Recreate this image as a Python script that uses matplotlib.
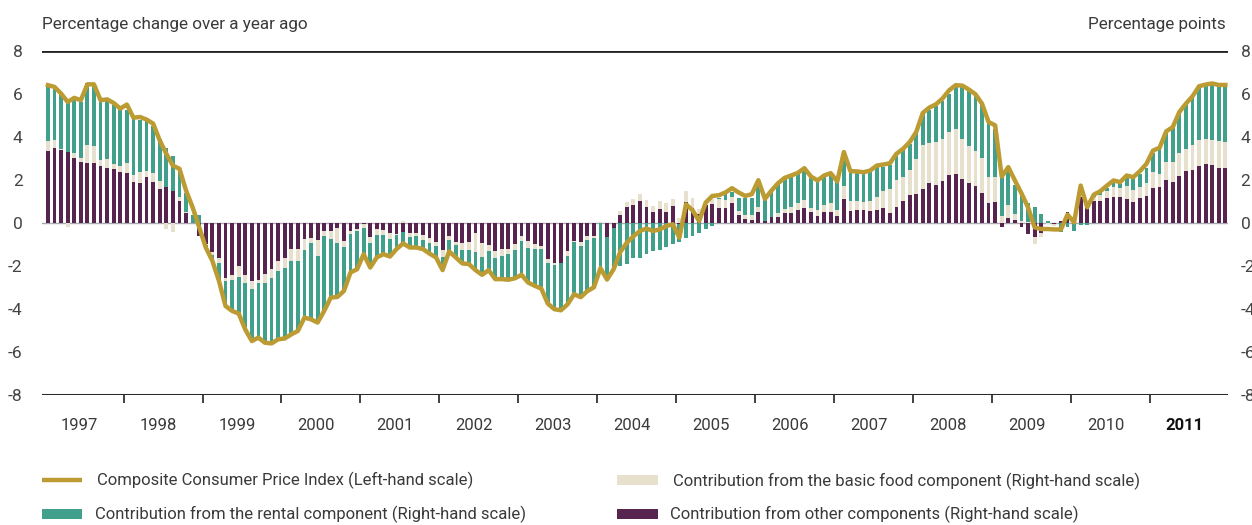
import numpy as np
import matplotlib
matplotlib.use("Agg")
import matplotlib.pyplot as plt
from matplotlib.patches import Rectangle

plt.rcParams['font.family'] = ['Roboto', 'DejaVu Sans']

# monthly data, Jan 1997 - Dec 2011
years = ['1997', '1998', '1999', '2000', '2001', '2002', '2003', '2004',
         '2005', '2006', '2007', '2008', '2009', '2010', '2011']

other = [3.34, 3.50, 3.41, 3.28, 3.02, 2.83, 2.78, 2.78, 2.63, 2.57, 2.49, 2.35,
         2.32, 1.90, 1.85, 2.16, 1.90, 1.56, 1.66, 1.48, 1.04, 0.45, 0.00, -0.60,
         -0.98, -1.37, -1.63, -2.57, -2.41, -2.02, -2.41, -2.72, -2.64, -2.38, -2.15, -1.76,
         -1.63, -1.21, -1.21, -0.75, -0.70, -0.79, -0.39, -0.39, -0.23, -0.82, -0.36, -0.28,
         -0.05, -0.64, -0.28, -0.33, -0.47, -0.51, -0.40, -0.47, -0.48, -0.56, -0.70, -0.87,
         -1.24, -0.59, -0.90, -0.93, -0.90, -0.47, -0.95, -1.03, -1.29, -1.21, -1.21, -0.98,
         -0.59, -0.82, -0.98, -1.06, -1.68, -1.87, -1.88, -1.29, -0.82, -0.87, -0.61, -0.61,
         0.00, -0.65, -0.25, 0.36, 0.75, 0.84, 1.03, 0.75, 0.51, 0.67, 0.51, 0.79,
         -0.05, 0.98, 0.72, 0.40, 0.82, 0.87, 0.72, 0.72, 0.95, 0.36, 0.20, 0.14,
         0.50, 0.08, 0.26, 0.30, 0.45, 0.45, 0.61, 0.68, 0.50, 0.34, 0.50, 0.50,
         0.31, 1.12, 0.54, 0.61, 0.62, 0.58, 0.62, 0.68, 0.45, 0.76, 1.01, 1.28,
         1.36, 1.59, 1.87, 1.79, 1.94, 2.21, 2.26, 2.05, 1.87, 1.70, 1.38, 0.92,
         0.96, -0.20, 0.22, 0.14, -0.20, -0.51, -0.67, -0.47, 0.00, -0.05, 0.10, 0.50,
         0.00, 1.20, 0.70, 1.01, 1.01, 1.15, 1.20, 1.20, 1.12, 0.96, 1.15, 1.24,
         1.62, 1.66, 1.98, 1.90, 2.18, 2.41, 2.47, 2.64, 2.75, 2.68, 2.57, 2.57]

food = [0.47, 0.34, 0.05, -0.20, 0.25, 0.20, 0.87, 0.82, 0.32, 0.40, 0.25, 0.28,
        0.45, 0.34, 0.51, 0.24, 0.43, 0.38, -0.28, -0.40, 0.16, 0.05, 0.00, 0.00,
        -0.05, -0.11, -0.25, -0.12, -0.25, -0.48, -0.36, -0.36, -0.16, -0.39, -0.42, -0.47,
        -0.48, -0.58, -0.55, -0.50, -0.25, -0.73, -0.20, -0.36, -0.71, -0.28, -0.16, -0.08,
        -0.19, -0.31, -0.27, -0.22, -0.28, -0.05, 0.10, -0.17, -0.11, -0.22, -0.25, -0.22,
        -0.36, -0.19, -0.11, -0.31, -0.34, -0.90, -0.62, -0.26, -0.36, -0.31, -0.23, -0.28,
        -0.23, -0.36, -0.23, -0.16, -0.16, -0.09, 0.00, -0.23, -0.08, -0.20, -0.16, -0.11,
        0.05, 0.00, 0.00, 0.20, 0.23, 0.26, 0.31, 0.31, 0.28, 0.33, 0.44, 0.34,
        0.25, 0.51, 0.44, 0.26, 0.20, 0.23, 0.39, 0.34, 0.26, 0.20, 0.16, 0.22,
        0.26, 0.00, 0.03, 0.18, 0.20, 0.28, 0.31, 0.41, 0.20, 0.27, 0.34, 0.42,
        0.30, 0.58, 0.50, 0.43, 0.38, 0.46, 0.61, 0.83, 1.14, 1.22, 1.15, 1.19,
        1.64, 2.02, 1.85, 1.97, 1.98, 2.02, 2.13, 1.87, 1.69, 1.67, 1.65, 1.24,
        1.20, 0.34, 0.62, 0.28, 0.10, 0.05, -0.31, -0.20, -0.05, -0.10, 0.00, 0.00,
        0.00, 0.00, 0.00, 0.22, 0.31, 0.33, 0.47, 0.44, 0.59, 0.58, 0.51, 0.61,
        0.75, 0.62, 0.86, 0.93, 1.07, 1.04, 1.18, 1.23, 1.17, 1.20, 1.23, 1.20]

rental = [2.55, 2.41, 2.54, 2.50, 2.45, 2.60, 2.87, 2.85, 2.76, 2.71, 2.73, 2.61,
          2.50, 2.61, 2.44, 2.33, 2.18, 1.98, 1.84, 1.62, 1.24, 0.90, 0.37, 0.38,
          -0.11, -0.28, -0.81, -1.17, -1.43, -1.71, -2.18, -2.41, -2.53, -2.80, -3.03, -3.18,
          -3.26, -3.39, -3.26, -3.15, -3.53, -3.11, -3.50, -2.72, -2.50, -2.06, -1.78, -1.79,
          -1.21, -1.12, -1.05, -0.90, -0.81, -0.65, -0.65, -0.50, -0.55, -0.43, -0.47, -0.51,
          -0.59, -0.54, -0.59, -0.64, -0.67, -0.77, -0.84, -0.90, -0.96, -1.09, -1.20, -1.31,
          -1.59, -1.59, -1.71, -1.83, -1.91, -2.05, -2.18, -2.26, -2.41, -2.38, -2.40, -2.27,
          -2.15, -1.98, -1.90, -2.00, -1.93, -1.65, -1.62, -1.46, -1.31, -1.24, -1.10, -0.96,
          -0.85, -0.72, -0.61, -0.45, -0.30, -0.14, 0.05, 0.28, 0.25, 0.62, 0.82, 0.82,
          1.20, 1.04, 1.30, 1.34, 1.40, 1.43, 1.37, 1.35, 1.40, 1.33, 1.32, 1.34,
          1.29, 1.21, 1.32, 1.32, 1.32, 1.32, 1.37, 1.09, 1.12, 1.21, 1.25, 1.22,
          1.24, 1.48, 1.55, 1.67, 1.76, 1.79, 1.94, 2.41, 2.58, 2.57, 2.52, 2.49,
          2.23, 1.80, 1.60, 1.37, 1.40, 0.90, 0.73, 0.42, 0.11, 0.00, -0.43, -0.20,
          -0.36, -0.10, -0.10, 0.10, 0.16, 0.16, 0.20, 0.19, 0.45, 0.56, 0.62, 0.72,
          0.89, 1.17, 1.37, 1.63, 1.84, 2.02, 2.16, 2.46, 2.49, 2.58, 2.61, 2.57]

cpi = [6.41, 6.33, 6.02, 5.63, 5.82, 5.71, 6.45, 6.45, 5.71, 5.75, 5.58, 5.32,
       5.51, 4.90, 4.93, 4.81, 4.62, 3.84, 3.22, 2.67, 2.52, 1.51, 0.73, -0.20,
       -1.14, -1.76, -2.69, -3.86, -4.09, -4.21, -4.95, -5.49, -5.33, -5.57, -5.60, -5.41,
       -5.37, -5.18, -5.02, -4.40, -4.48, -4.63, -4.09, -3.47, -3.44, -3.16, -2.30, -2.15,
       -1.45, -2.07, -1.60, -1.45, -1.56, -1.21, -0.95, -1.14, -1.14, -1.21, -1.42, -1.60,
       -2.19, -1.32, -1.60, -1.88, -1.91, -2.19, -2.41, -2.19, -2.61, -2.61, -2.64, -2.57,
       -2.41, -2.77, -2.92, -3.05, -3.75, -4.01, -4.06, -3.78, -3.31, -3.45, -3.17, -2.99,
       -2.10, -2.63, -2.15, -1.35, -0.92, -0.62, -0.37, -0.26, -0.37, -0.30, -0.14, -0.06,
       -0.68, 0.87, 0.59, 0.09, 0.95, 1.26, 1.29, 1.42, 1.62, 1.42, 1.26, 1.34,
       1.99, 1.12, 1.51, 1.85, 2.10, 2.21, 2.33, 2.55, 2.16, 1.98, 2.21, 2.32,
       1.93, 3.30, 2.41, 2.40, 2.36, 2.44, 2.67, 2.72, 2.78, 3.22, 3.45, 3.76,
       4.23, 5.12, 5.37, 5.52, 5.79, 6.17, 6.41, 6.39, 6.21, 5.99, 5.55, 4.70,
       4.54, 2.16, 2.60, 1.98, 1.38, 0.73, -0.20, -0.28, -0.28, -0.30, -0.30, 0.39,
       0.03, 1.74, 0.73, 1.32, 1.48, 1.74, 1.98, 1.90, 2.21, 2.13, 2.41, 2.75,
       3.37, 3.50, 4.26, 4.46, 5.16, 5.55, 5.89, 6.36, 6.44, 6.49, 6.42, 6.42]

y_ticks = [8, 6, 4, 2, 0, -2, -4, -6, -8]

gold = '#bb9b32'
teal = '#40a08b'
cream = '#e6e0cc'
purple = '#57234f'
txt = '#3a3a3a'

W, H = 1252, 525
fig = plt.figure(figsize=(W / 100, H / 100), dpi=100)
ax = fig.add_axes([42 / W, 1 - 395 / H, (1228 - 42) / W, (395 - 51) / H])

x = np.arange(len(cpi))
pos = np.zeros(len(x))
neg = np.zeros(len(x))
for vals, col in [(other, purple), (food, cream), (rental, teal)]:
    v = np.array(vals)
    base = np.where(v >= 0, pos, neg)
    ax.bar(x, v, width=0.58, bottom=base, color=col, linewidth=0, zorder=2)
    pos += np.clip(v, 0, None)
    neg += np.clip(v, None, 0)

ax.plot(x, cpi, color=gold, lw=3.2, zorder=4, solid_joinstyle='round')

ax.axhline(0, color='#a9a9b2', lw=1.0, zorder=1)
ax.axhline(8, color='#222222', lw=2.0, zorder=5)
ax.axhline(-8, color='#2a2a2a', lw=2.2, zorder=5)

ax.set_xlim(-0.9, 179.4)
ax.set_ylim(-8, 8)
for s in ax.spines.values():
    s.set_visible(False)

ax.set_xticks([11.5 + 12 * k for k in range(14)])
ax.tick_params(axis='x', direction='out', length=6, width=1.3, color='#333333',
               labelbottom=False)
ax.set_yticks(y_ticks)
ax.set_yticklabels([str(t) for t in y_ticks])
ax.tick_params(axis='y', length=0, pad=14, labelsize=12.5, labelcolor='#444444')

ax2 = ax.twinx()
ax2.set_ylim(-8, 8)
ax2.set_yticks(y_ticks)
ax2.set_yticklabels([str(t) for t in y_ticks])
ax2.tick_params(axis='y', length=0, pad=9, labelsize=12.5, labelcolor='#444444')
for s in ax2.spines.values():
    s.set_visible(False)

for k, yr in enumerate(years):
    ax.text(12 * k + 4.8, -9.4, yr, ha='center', va='center', fontsize=12,
            color='#111111' if yr == '2011' else txt,
            fontweight='bold' if yr == '2011' else 'normal', clip_on=False)

# overlay in pixel coordinates for headings and legend
ov = fig.add_axes([0, 0, 1, 1])
ov.set_xlim(0, W)
ov.set_ylim(H, 0)
ov.axis('off')
ov.patch.set_alpha(0)

ov.text(42, 25, 'Percentage change over a year ago', ha='left', va='center',
        fontsize=12.3, color=txt)
ov.text(1226, 25, 'Percentage points', ha='right', va='center',
        fontsize=12.3, color=txt)

ov.plot([42, 82], [480, 480], color=gold, lw=3.2, solid_capstyle='butt')
ov.add_patch(Rectangle((42, 509), 40, 10, color=teal, lw=0))
ov.add_patch(Rectangle((617, 475), 41, 10, color=cream, lw=0))
ov.add_patch(Rectangle((617, 509), 41, 10, color=purple, lw=0))

ov.text(97, 480, 'Composite Consumer Price Index (Left-hand scale)',
        ha='left', va='center', fontsize=12, color=txt)
ov.text(95, 514, 'Contribution from the rental component (Right-hand scale)',
        ha='left', va='center', fontsize=12, color=txt)
ov.text(673, 481, 'Contribution from the basic food component (Right-hand scale)',
        ha='left', va='center', fontsize=12, color=txt)
ov.text(670, 514, 'Contribution from other components (Right-hand scale)',
        ha='left', va='center', fontsize=12, color=txt)

fig.savefig('out.png', dpi=100, facecolor='white')
